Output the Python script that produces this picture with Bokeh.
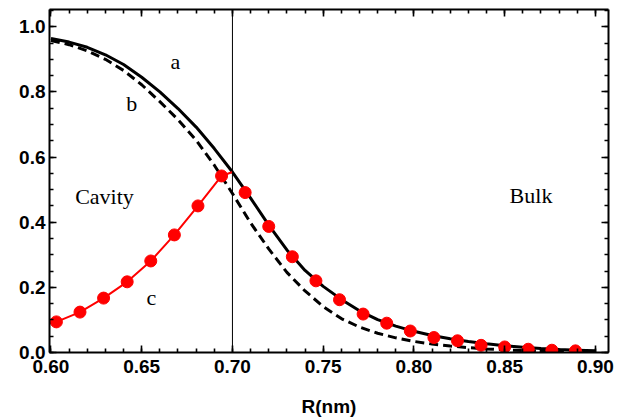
from bokeh.plotting import figure
from bokeh.models import (Range1d, LinearAxis, SingleIntervalTicker, Span,
                          NumeralTickFormatter, ColumnDataSource)
from bokeh.core.properties import value
from bokeh.embed import file_html
from bokeh.resources import INLINE

# ---- data ----
r_grid = [0.60, 0.61, 0.62, 0.63, 0.64, 0.65, 0.66, 0.67, 0.68, 0.69, 0.70,
          0.71, 0.72, 0.73, 0.74, 0.75, 0.76, 0.77, 0.78, 0.79, 0.80,
          0.81, 0.82, 0.83, 0.84, 0.85, 0.86, 0.87, 0.88, 0.89, 0.90]
curve_a = [0.964, 0.953, 0.937, 0.914, 0.884, 0.845, 0.800, 0.749, 0.692, 0.626, 0.554,
           0.474, 0.391, 0.315, 0.252, 0.203, 0.163, 0.128, 0.101, 0.081, 0.065,
           0.052, 0.042, 0.034, 0.027, 0.021, 0.016, 0.012, 0.009, 0.007, 0.005]
curve_b = [0.958, 0.945, 0.926, 0.900, 0.866, 0.822, 0.770, 0.715, 0.652, 0.575, 0.488,
           0.398, 0.318, 0.246, 0.189, 0.141, 0.104, 0.078, 0.059, 0.045, 0.034,
           0.026, 0.020, 0.015, 0.011, 0.008, 0.006, 0.004, 0.003, 0.002, 0.002]

c_r = [0.603, 0.616, 0.629, 0.642, 0.655, 0.668, 0.681, 0.694, 0.707, 0.720,
       0.733, 0.746, 0.759, 0.772, 0.785, 0.798, 0.811, 0.824, 0.837, 0.850,
       0.863, 0.876, 0.889]
c_val = [0.094, 0.124, 0.167, 0.217, 0.281, 0.361, 0.450, 0.542, 0.491, 0.387,
         0.294, 0.220, 0.162, 0.118, 0.090, 0.066, 0.046, 0.036, 0.022, 0.017,
         0.010, 0.007, 0.005]
# red connecting line inside the cavity (ends on curve a at R = 0.70)
c_line_r = [0.599, 0.603, 0.616, 0.629, 0.642, 0.655, 0.668, 0.681, 0.694, 0.700]
c_line_val = [0.089, 0.094, 0.124, 0.167, 0.217, 0.281, 0.361, 0.450, 0.542, 0.554]

boundary_r = 0.70

label_text = ["a", "b", "c", "Cavity", "Bulk"]
label_r = [0.6685, 0.6445, 0.6553, 0.6295, 0.8645]
label_y = [0.892, 0.764, 0.170, 0.480, 0.481]

x_tick_interval = 0.05
y_tick_interval = 0.2

# ---- figure ----
p = figure(width=638, height=419, output_backend="svg", toolbar_location=None,
           x_range=Range1d(0.5992, 0.9072), y_range=Range1d(0.0, 1.053),
           x_axis_label="R(nm)",
           min_border_left=49, min_border_right=30, min_border_top=9,
           min_border_bottom=65)
p.outline_line_color = None
p.background_fill_color = "white"
p.border_fill_color = "white"
p.xgrid.visible = False
p.ygrid.visible = False

xt = SingleIntervalTicker(interval=x_tick_interval, num_minor_ticks=5)
yt = SingleIntervalTicker(interval=y_tick_interval, num_minor_ticks=4)

def style_axis(ax, show_labels):
    ax.axis_line_width = 2
    ax.axis_line_color = "black"
    ax.major_tick_in = 7
    ax.major_tick_out = 0
    ax.minor_tick_in = 4
    ax.minor_tick_out = 0
    ax.major_tick_line_width = 1.6
    ax.minor_tick_line_width = 1.6
    ax.major_tick_line_color = "black"
    ax.minor_tick_line_color = "black"
    if show_labels:
        ax.major_label_text_font = "Liberation Sans"
        ax.major_label_text_font_style = "bold"
        ax.major_label_text_font_size = "19px"
        ax.major_label_text_color = "black"
    else:
        ax.major_label_text_font_size = "0px"
        ax.major_label_text_color = None
        ax.major_label_standoff = 0

xa = p.xaxis[0]
xa.ticker = xt
xa.formatter = NumeralTickFormatter(format="0.00")
style_axis(xa, True)
xa.major_label_standoff = 7
xa.axis_label_text_font = "Liberation Sans"
xa.axis_label_text_font_style = "bold"
xa.axis_label_text_font_size = "19px"
xa.axis_label_text_color = "black"
xa.axis_label_standoff = 20

ya = p.yaxis[0]
ya.ticker = yt
ya.formatter = NumeralTickFormatter(format="0.0")
style_axis(ya, True)
ya.major_label_standoff = 4

top = LinearAxis(ticker=xt)
style_axis(top, False)
p.add_layout(top, "above")
right = LinearAxis(ticker=yt)
style_axis(right, False)
p.add_layout(right, "right")

p.add_layout(Span(location=boundary_r, dimension="height", line_color="black",
                  line_width=1))

p.line(r_grid, curve_b, line_color="black", line_width=3, line_dash="9 5")
p.line(r_grid, curve_a, line_color="black", line_width=3)
p.line(c_line_r, c_line_val, line_color="#ff0000", line_width=2)
p.scatter(c_r, c_val, size=12, marker="circle", fill_color="#ff0000",
          line_color="#ff0000")

src = ColumnDataSource(dict(x=label_r, y=label_y, t=label_text))
p.text(x="x", y="y", text="t", source=src, text_font=value("Liberation Serif"),
       text_font_size="22px", text_align="center", text_baseline="alphabetic",
       text_color="black")

open("out.html", "w").write(file_html(p, INLINE))
